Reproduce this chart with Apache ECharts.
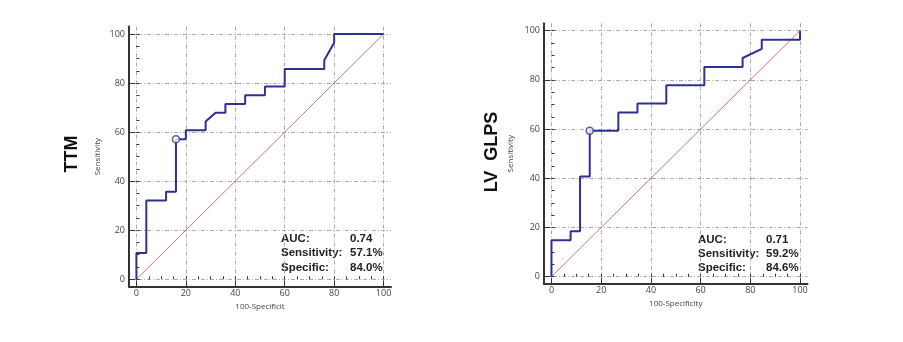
<!DOCTYPE html>
<html lang="en">
<head>
    <meta charset="UTF-8">
    <title>ROC</title>
    <script src="https://cdn.jsdelivr.net/npm/echarts@6/dist/echarts.min.js"></script>
    <style>
        html, body { margin: 0; padding: 0; background: #fff; }
        #chart { width: 903px; height: 342px; }
    </style>
</head>
<body>
<div id="chart"></div>
<script>
    // TTM ROC curve (100-specificity, sensitivity)
    var ttmX = [0, 0, 4, 4, 12, 12, 16, 16, 20, 20, 28, 28, 32, 36, 36, 44, 44, 52, 52, 60, 60, 76, 76, 80, 80, 100];
    var ttmY = [0, 10.7, 10.7, 32.1, 32.1, 35.7, 35.7, 57.1, 57.1, 60.7, 60.7, 64.3, 67.9, 67.9, 71.4, 71.4, 75, 75, 78.6, 78.6, 85.7, 85.7, 89.3, 96.4, 100, 100];
    var ttmCut = [16, 57.1];
    var ttmStats = ['0.74', '57.1%', '84.0%'];

    // LV GLPS ROC curve
    var glpsX = [0, 0, 7.7, 7.7, 11.5, 11.5, 15.4, 15.4, 26.9, 26.9, 34.6, 34.6, 46.2, 46.2, 61.5, 61.5, 76.9, 76.9, 84.6, 84.6, 100, 100];
    var glpsY = [0, 14.8, 14.8, 18.5, 18.5, 40.7, 40.7, 59.3, 59.3, 66.7, 66.7, 70.4, 70.4, 77.8, 77.8, 85.2, 85.2, 88.9, 92.6, 96.3, 96.3, 100];
    var glpsCut = [15.4, 59.3];
    var glpsStats = ['0.71', '59.2%', '84.6%'];

    var diag = [[0, 0], [100, 100]];
    var majorTicks = [0, 20, 40, 60, 80, 100];
    var minorTicks = [];
    for (var t = 0; t <= 100; t += 5) minorTicks.push(t);
    var statNames = ['AUC:', 'Sensitivity:', 'Specific:'];

    var BLUE = '#2e3192';

    function pairs(xs, ys) {
        return xs.map(function (x, i) { return [x, ys[i]]; });
    }

    function axes(dir, gridIndex, name, nameGap) {
        var major = {
            type: 'value', gridIndex: gridIndex, min: -3, max: 103,
            position: dir === 'x' ? 'bottom' : 'left',
            name: name, nameLocation: 'middle', nameGap: nameGap,
            nameTextStyle: { fontSize: 8, color: '#444', fontFamily: 'Open Sans' },
            axisLine: { show: true, onZero: false, lineStyle: { color: '#333', width: 2 } },
            axisTick: { show: true, inside: true, length: 6, customValues: majorTicks, lineStyle: { color: '#333' } },
            axisLabel: { customValues: majorTicks, fontSize: 9, color: '#444', fontFamily: 'Open Sans', margin: dir === 'x' ? 2 : 4 },
            splitLine: { show: true, lineStyle: { color: '#aaa', type: [4, 2, 1, 2], width: 1 } }
        };
        var minor = {
            type: 'value', gridIndex: gridIndex, min: -3, max: 103,
            position: dir === 'x' ? 'bottom' : 'left',
            axisLine: { show: false },
            axisTick: { show: true, inside: true, length: 3, customValues: minorTicks, lineStyle: { color: '#333' } },
            axisLabel: { show: false },
            splitLine: { show: false }
        };
        return [major, minor];
    }

    function statText(x, y, cx, vals) {
        var out = [];
        statNames.forEach(function (s, i) {
            out.push({ type: 'text', x: x, y: y + i * 14.3,
                style: { text: s, font: 'bold 11.5px "Liberation Sans", Arial', fill: '#222', verticalAlign: 'middle' } });
            out.push({ type: 'text', x: cx, y: y + i * 14.3,
                style: { text: vals[i], font: 'bold 11.5px "Liberation Sans", Arial', fill: '#222', verticalAlign: 'middle' } });
        });
        return out;
    }

    function curveSeries(axisIdx, data, cut) {
        return [{
            type: 'line', xAxisIndex: axisIdx, yAxisIndex: axisIdx, data: diag,
            showSymbol: false, silent: true,
            lineStyle: { color: '#b85450', width: 0.8 }
        }, {
            type: 'line', xAxisIndex: axisIdx, yAxisIndex: axisIdx, data: data,
            showSymbol: false,
            lineStyle: { color: BLUE, width: 2 }
        }, {
            type: 'scatter', xAxisIndex: axisIdx, yAxisIndex: axisIdx, data: [cut],
            symbol: 'circle', symbolSize: 7, z: 5,
            itemStyle: { color: '#fff', borderColor: BLUE, borderWidth: 1.5 }
        }];
    }

    var chart = echarts.init(document.getElementById('chart'));
    var ax0 = axes('x', 0, '100-Specificit', 13), ay0 = axes('y', 0, 'Sensitivity', 27);
    var ax1 = axes('x', 1, '100-Specificity', 14), ay1 = axes('y', 1, 'Sensitivity', 29);

    chart.setOption({
        animation: false,
        grid: [
            { left: 129, top: 26.6, width: 262, height: 260 },
            { left: 544, top: 23.3, width: 263.5, height: 260.8 }
        ],
        xAxis: [ax0[0], ax0[1], ax1[0], ax1[1]],
        yAxis: [ay0[0], ay0[1], ay1[0], ay1[1]],
        series: curveSeries(0, pairs(ttmX, ttmY), ttmCut).concat(curveSeries(2, pairs(glpsX, glpsY), glpsCut)),
        graphic: [
            { type: 'text', x: 72, y: 154, rotation: Math.PI / 2,
              style: { text: 'TTM', font: 'bold 18px "Liberation Sans", Arial', fill: '#111', align: 'center', verticalAlign: 'middle' } },
            { type: 'text', x: 492, y: 152, rotation: Math.PI / 2,
              style: { text: 'LV  GLPS', font: 'bold 18px "Liberation Sans", Arial', fill: '#111', align: 'center', verticalAlign: 'middle' } }
        ].concat(statText(281, 239, 350, ttmStats)).concat(statText(698, 239.5, 766, glpsStats))
    });
</script>
</body>
</html>
